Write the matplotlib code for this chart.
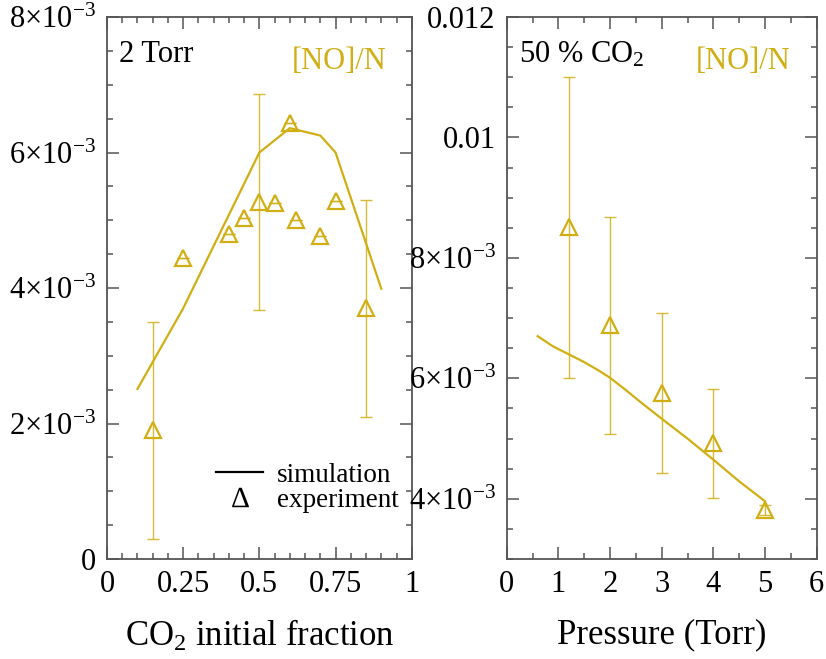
import matplotlib
matplotlib.use('Agg')
import matplotlib.pyplot as plt
from matplotlib.lines import Line2D
from matplotlib.ticker import FixedLocator, MultipleLocator

# ---- data: left panel, 2 Torr, varying CO2 fraction
co2_sim = [0.1, 0.25, 0.5, 0.6, 0.7, 0.75, 0.9]
no_sim_co2 = [2.51e-3, 3.70e-3, 6.00e-3, 6.36e-3, 6.25e-3, 6.00e-3, 3.99e-3]

co2_exp = [0.15, 0.25, 0.4, 0.45, 0.5, 0.55, 0.6, 0.62, 0.7, 0.75, 0.85]
no_exp_co2 = [1.90e-3, 4.45e-3, 4.80e-3, 5.03e-3, 5.27e-3, 5.25e-3, 6.44e-3, 5.01e-3, 4.77e-3, 5.28e-3, 3.70e-3]
no_err_co2 = [1.6e-3, 0, 0, 0, 1.6e-3, 0, 0, 0, 0, 0, 1.6e-3]

# ---- data: right panel, 50 % CO2, varying pressure
p_sim = [0.6, 0.9, 1.2, 1.5, 1.8, 2.0, 2.3, 2.6, 3.0, 3.5, 4.0, 4.5, 5.0]
no_sim_p = [6.70e-3, 6.53e-3, 6.40e-3, 6.27e-3, 6.12e-3, 6.01e-3, 5.81e-3, 5.60e-3,
            5.33e-3, 5.00e-3, 4.65e-3, 4.29e-3, 3.96e-3]

p_exp = [1.2, 2.0, 3.0, 4.0, 5.0]
no_exp_p = [8.51e-3, 6.88e-3, 5.76e-3, 4.92e-3, 3.81e-3]
no_err_p = [2.5e-3, 1.8e-3, 1.33e-3, 0.9e-3, 0.08e-3]

# ---- ticks
left_xticks = [0, 0.25, 0.5, 0.75, 1]
left_xticklabels = ['0', '0.25', '0.5', '0.75', '1']
left_yticks = [0, 2e-3, 4e-3, 6e-3, 8e-3]
left_yticklabels = ['0', r'$2{\times}10^{-3}$', r'$4{\times}10^{-3}$', r'$6{\times}10^{-3}$', r'$8{\times}10^{-3}$']
right_xticks = [0, 1, 2, 3, 4, 5, 6]
right_xticklabels = ['0', '1', '2', '3', '4', '5', '6']
right_yticks = [4e-3, 6e-3, 8e-3, 10e-3, 12e-3]
right_yticklabels = [r'$4{\times}10^{-3}$', r'$6{\times}10^{-3}$', r'$8{\times}10^{-3}$', '0.01', '0.012']

GOLD = '#D1AE14'
SPINE = '#555555'

plt.rcParams['font.family'] = ['Liberation Serif', 'DejaVu Serif']
plt.rcParams['mathtext.fontset'] = 'custom'
plt.rcParams['mathtext.rm'] = 'Liberation Serif'
plt.rcParams['mathtext.it'] = 'Liberation Serif:italic'
plt.rcParams['mathtext.bf'] = 'Liberation Serif:bold'

fig = plt.figure(figsize=(8.26, 6.59), dpi=100)
ax1 = fig.add_axes([0.1295, 0.1517, 0.369, 0.8225])
ax2 = fig.add_axes([0.6134, 0.1517, 0.3753, 0.8225])


def style_axes(ax, xminor, yminor):
    for s in ax.spines.values():
        s.set_color(SPINE)
        s.set_linewidth(1.3)
    ax.xaxis.set_minor_locator(MultipleLocator(xminor))
    ax.yaxis.set_minor_locator(MultipleLocator(yminor))
    ax.tick_params(which='both', direction='in', top=True, right=True, color=SPINE, width=1.1)
    ax.tick_params(which='major', length=8.5, labelsize=22, pad=8)
    ax.tick_params(which='minor', length=4.5)


def draw_panel(ax, xs, ys, xe, ye, err):
    ax.plot(xs, ys, color=GOLD, lw=1.6)
    ax.errorbar(xe, ye, yerr=err, fmt='none', ecolor=GOLD, elinewidth=1.0,
                capsize=4.2, capthick=1.0, alpha=0.85)
    ax.plot(xe, ye, ls='none', marker='^', ms=11.5, mfc='none', mec=GOLD, mew=1.6)


# left panel
draw_panel(ax1, co2_sim, no_sim_co2, co2_exp, no_exp_co2, no_err_co2)
ax1.set_xlim(0, 1)
ax1.set_ylim(0, 8e-3)
ax1.xaxis.set_major_locator(FixedLocator(left_xticks))
ax1.set_xticklabels(left_xticklabels)
ax1.yaxis.set_major_locator(FixedLocator(left_yticks))
ax1.set_yticklabels(left_yticklabels)
style_axes(ax1, 0.05, 0.5e-3)
ax1.set_xlabel(r'CO$_2$ initial fraction', fontsize=25, labelpad=14)
ax1.text(0.04, 0.93, '2 Torr', transform=ax1.transAxes, fontsize=22, va='center', ha='left')
ax1.text(0.917, 0.917, '[NO]/N', transform=ax1.transAxes, fontsize=22, va='center', ha='right', color=GOLD)

handles = [Line2D([], [], color='black', lw=1.6),
           Line2D([], [], ls='none', marker=r'$\mathrm{Δ}$', color='black', ms=14, mew=0)]
ax1.legend(handles, ['simulation', 'experiment'], loc='lower right', bbox_to_anchor=(1.01, 0.055),
           frameon=False, fontsize=19.5, handlelength=1.75, handletextpad=0.5, labelspacing=0.0,
           borderaxespad=0.2)

# right panel
draw_panel(ax2, p_sim, no_sim_p, p_exp, no_exp_p, no_err_p)
ax2.set_xlim(0, 6)
ax2.set_ylim(3e-3, 12e-3)
ax2.xaxis.set_major_locator(FixedLocator(right_xticks))
ax2.set_xticklabels(right_xticklabels)
ax2.yaxis.set_major_locator(FixedLocator(right_yticks))
ax2.set_yticklabels(right_yticklabels)
style_axes(ax2, 0.5, 0.5e-3)
ax2.set_xlabel('Pressure (Torr)', fontsize=25, labelpad=14)
ax2.text(0.04, 0.93, r'50 % CO$_2$', transform=ax2.transAxes, fontsize=22, va='center', ha='left')
ax2.text(0.914, 0.917, '[NO]/N', transform=ax2.transAxes, fontsize=22, va='center', ha='right', color=GOLD)

fig.savefig('out.png', dpi=100)
